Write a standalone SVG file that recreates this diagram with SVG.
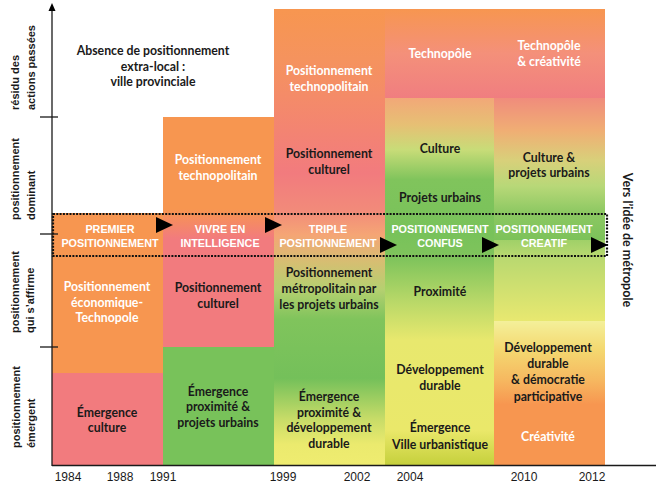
<svg xmlns="http://www.w3.org/2000/svg" width="656" height="486" viewBox="0 0 656 486">
<style>
.t{font-family:Lato,"Open Sans",sans-serif;font-weight:700;font-size:12.3px;text-anchor:middle}
.w{fill:#fff}
.k{fill:#1a1a1a}
.b{font-family:"Liberation Sans",Arial,sans-serif;font-weight:700;font-size:10.8px;fill:#fff;text-anchor:middle}
.lab{font-family:"Liberation Sans",Arial,sans-serif;font-weight:700;font-size:11px;fill:#1a1a1a}
.yr{font-family:"Liberation Sans",Arial,sans-serif;font-size:12px;fill:#1a1a1a;text-anchor:middle}
.ax{stroke:#1a1a1a;stroke-width:1.3;fill:none}
.dot{stroke:#111;stroke-width:2.2;stroke-dasharray:2 1.3;fill:none}
.arr{fill:#000}
</style>
<defs>
<linearGradient id="g2" gradientUnits="userSpaceOnUse" x1="0" y1="117" x2="0" y2="347">
<stop offset="0" stop-color="#F79650"/><stop offset="0.40" stop-color="#F79650"/><stop offset="0.53" stop-color="#F27B7E"/><stop offset="1" stop-color="#F27B7E"/>
</linearGradient>
<linearGradient id="g3" gradientUnits="userSpaceOnUse" x1="0" y1="9" x2="0" y2="465">
<stop offset="0" stop-color="#F79650"/><stop offset="0.11" stop-color="#F5935E"/><stop offset="0.36" stop-color="#F27B7E"/><stop offset="0.44" stop-color="#F28A7A"/><stop offset="0.495" stop-color="#F5A575"/><stop offset="0.555" stop-color="#D6BE72"/><stop offset="0.615" stop-color="#B5D070"/><stop offset="0.68" stop-color="#80C45C"/><stop offset="0.81" stop-color="#74C05A"/><stop offset="0.90" stop-color="#C8DC68"/><stop offset="0.955" stop-color="#EBEA6E"/><stop offset="1" stop-color="#EFEC70"/>
</linearGradient>
<linearGradient id="gt" gradientUnits="userSpaceOnUse" x1="0" y1="9" x2="0" y2="98">
<stop offset="0" stop-color="#F79650"/><stop offset="0.5" stop-color="#F4907A"/><stop offset="1" stop-color="#F07E80"/>
</linearGradient>
<linearGradient id="g4m" gradientUnits="userSpaceOnUse" x1="0" y1="98" x2="0" y2="234">
<stop offset="0" stop-color="#F2A878"/><stop offset="0.2" stop-color="#E6C074"/><stop offset="0.38" stop-color="#C8DC78"/><stop offset="0.6" stop-color="#80C45C"/><stop offset="1" stop-color="#78C25A"/>
</linearGradient>
<linearGradient id="g4l" gradientUnits="userSpaceOnUse" x1="0" y1="234" x2="0" y2="465">
<stop offset="0" stop-color="#78C25A"/><stop offset="0.11" stop-color="#80C45C"/><stop offset="0.29" stop-color="#B8D868"/><stop offset="0.46" stop-color="#E8E86E"/><stop offset="0.85" stop-color="#EAE86A"/><stop offset="1" stop-color="#C5D03C"/>
</linearGradient>
<linearGradient id="g5m" gradientUnits="userSpaceOnUse" x1="0" y1="98" x2="0" y2="240">
<stop offset="0" stop-color="#F08C7C"/><stop offset="0.23" stop-color="#F0AE74"/><stop offset="0.44" stop-color="#D8D07A"/><stop offset="0.62" stop-color="#B8D878"/><stop offset="0.81" stop-color="#8CC862"/><stop offset="1" stop-color="#7CC25A"/>
</linearGradient>
<linearGradient id="g5l" gradientUnits="userSpaceOnUse" x1="0" y1="240" x2="0" y2="321">
<stop offset="0" stop-color="#A0D068"/><stop offset="0.2" stop-color="#B8D870"/><stop offset="1" stop-color="#E8E870"/>
</linearGradient>
<linearGradient id="g5b" gradientUnits="userSpaceOnUse" x1="0" y1="321" x2="0" y2="465">
<stop offset="0" stop-color="#F4F09A"/><stop offset="0.2" stop-color="#F4D870"/><stop offset="0.41" stop-color="#F6B860"/><stop offset="0.58" stop-color="#F79650"/><stop offset="1" stop-color="#F79650"/>
</linearGradient>
</defs>

<g id="col1-absence">
<text class="t k" x="153" y="55">Absence de positionnement</text>
<text class="t k" x="153" y="71">extra-local :</text>
<text class="t k" x="153" y="86">ville provinciale</text>
</g>
<g id="col1-economique">
<rect x="52" y="213" width="111" height="160" fill="#F79650"/>
<text class="t w" x="107" y="291">Positionnement</text>
<text class="t w" x="107" y="307">économique-</text>
<text class="t w" x="107" y="322">Technopole</text>
</g>
<g id="col1-emergence">
<rect x="52" y="373" width="111" height="92" fill="#F27B7E"/>
<text class="t k" x="107" y="417">Émergence</text>
<text class="t k" x="107" y="432">culture</text>
</g>

<g id="col2-upper">
<rect x="163" y="117" width="111" height="230" fill="url(#g2)"/>
<text class="t w" x="218" y="164">Positionnement</text>
<text class="t w" x="218" y="180">technopolitain</text>
<text class="t k" x="218" y="292">Positionnement</text>
<text class="t k" x="218" y="308">culturel</text>
</g>
<g id="col2-emergence">
<rect x="163" y="347" width="111" height="118" fill="#78C25A"/>
<text class="t k" x="218" y="396">Émergence</text>
<text class="t k" x="218" y="411">proximité &amp;</text>
<text class="t k" x="218" y="427">projets urbains</text>
</g>

<g id="col3">
<rect x="274" y="9" width="111" height="456" fill="url(#g3)"/>
<text class="t w" x="329" y="75">Positionnement</text>
<text class="t w" x="329" y="91">technopolitain</text>
<text class="t k" x="329" y="158">Positionnement</text>
<text class="t k" x="329" y="174">culturel</text>
<text class="t k" x="329" y="277">Positionnement</text>
<text class="t k" x="329" y="293">métropolitain par</text>
<text class="t k" x="329" y="309">les projets urbains</text>
<text class="t k" x="329" y="401">Émergence</text>
<text class="t k" x="329" y="417">proximité &amp;</text>
<text class="t k" x="329" y="432">développement</text>
<text class="t k" x="329" y="448">durable</text>
</g>

<g id="col4-technopole">
<rect x="385" y="9" width="109" height="89" fill="url(#gt)"/>
<text class="t w" x="440" y="58">Technopôle</text>
</g>
<g id="col4-culture">
<rect x="385" y="98" width="109" height="136" fill="url(#g4m)"/>
<text class="t k" x="440" y="153">Culture</text>
<text class="t k" x="440" y="202">Projets urbains</text>
</g>
<g id="col4-lower">
<rect x="385" y="234" width="109" height="231" fill="url(#g4l)"/>
<text class="t k" x="440" y="296">Proximité</text>
<text class="t k" x="440" y="374">Développement</text>
<text class="t k" x="440" y="390">durable</text>
<text class="t k" x="440" y="432">Émergence</text>
<text class="t k" x="440" y="449">Ville urbanistique</text>
</g>

<g id="col5-technopole">
<rect x="494" y="9" width="111" height="89" fill="url(#gt)"/>
<text class="t w" x="549" y="50">Technopôle</text>
<text class="t w" x="549" y="66">&amp; créativité</text>
</g>
<g id="col5-culture">
<rect x="494" y="98" width="111" height="142" fill="url(#g5m)"/>
<text class="t k" x="549" y="162">Culture &amp;</text>
<text class="t k" x="549" y="177">projets urbains</text>
</g>
<g id="col5-mid">
<rect x="494" y="240" width="111" height="81" fill="url(#g5l)"/>
</g>
<g id="col5-lower">
<rect x="494" y="321" width="111" height="144" fill="url(#g5b)"/>
<text class="t k" x="548" y="352">Développement</text>
<text class="t k" x="548" y="368">durable</text>
<text class="t k" x="548" y="384">&amp; démocratie</text>
<text class="t k" x="548" y="401">participative</text>
<text class="t w" x="548" y="441">Créativité</text>
</g>

<g id="band">
<rect class="dot" x="53" y="214" width="554" height="42"/>
<text class="b" x="110" y="233">PREMIER</text>
<text class="b" x="110" y="247">POSITIONNEMENT</text>
<text class="b" x="220" y="233">VIVRE EN</text>
<text class="b" x="220" y="247">INTELLIGENCE</text>
<text class="b" x="328" y="233">TRIPLE</text>
<text class="b" x="328" y="247">POSITIONNEMENT</text>
<text class="b" x="440" y="233">POSITIONNEMENT</text>
<text class="b" x="440" y="247">CONFUS</text>
<text class="b" x="544" y="233">POSITIONNEMENT</text>
<text class="b" x="544" y="247">CREATIF</text>
</g>

<g id="connectors">
<polygon class="arr" points="156,217 173,225 156,233"/>
<polygon class="arr" points="265,217 282,225 265,233"/>
<polygon class="arr" points="380,237 397,245 380,253"/>
<polygon class="arr" points="482,237 499,245 482,253"/>
<polygon class="arr" points="591,237 608,245 591,253"/>
</g>

<g id="axes">
<line class="ax" x1="52" y1="466" x2="52" y2="9"/>
<polygon class="arr" points="52,3 55.5,11 48.5,11"/>
<line class="ax" x1="52" y1="465.5" x2="656" y2="465.5"/>
<line class="ax" x1="40" y1="117" x2="58" y2="117"/>
<line class="ax" x1="40" y1="234" x2="58" y2="234"/>
<line class="ax" x1="40" y1="347" x2="58" y2="347"/>
</g>

<g id="y-labels">
<text class="lab" transform="translate(19,110) rotate(-90)">résidu des</text>
<text class="lab" transform="translate(35,110) rotate(-90)">actions passées</text>
<text class="lab" transform="translate(19,220) rotate(-90)">positionnement</text>
<text class="lab" transform="translate(35,220) rotate(-90)">dominant</text>
<text class="lab" transform="translate(19,333) rotate(-90)">positionnement</text>
<text class="lab" transform="translate(34,333) rotate(-90)">qui s’affirme</text>
<text class="lab" transform="translate(20,448) rotate(-90)">positionnement</text>
<text class="lab" transform="translate(35,448) rotate(-90)">émergent</text>
</g>

<g id="x-labels">
<text class="yr" x="68" y="481">1984</text>
<text class="yr" x="120" y="481">1988</text>
<text class="yr" x="163" y="481">1991</text>
<text class="yr" x="283" y="481">1999</text>
<text class="yr" x="357" y="481">2002</text>
<text class="yr" x="410" y="481">2004</text>
<text class="yr" x="524" y="481">2010</text>
<text class="yr" x="592" y="481">2012</text>
</g>

<g id="side-label">
<text class="t k" style="font-size:12.5px" transform="translate(623,240) rotate(90)">Vers l’idée de métropole</text>
</g>
</svg>
